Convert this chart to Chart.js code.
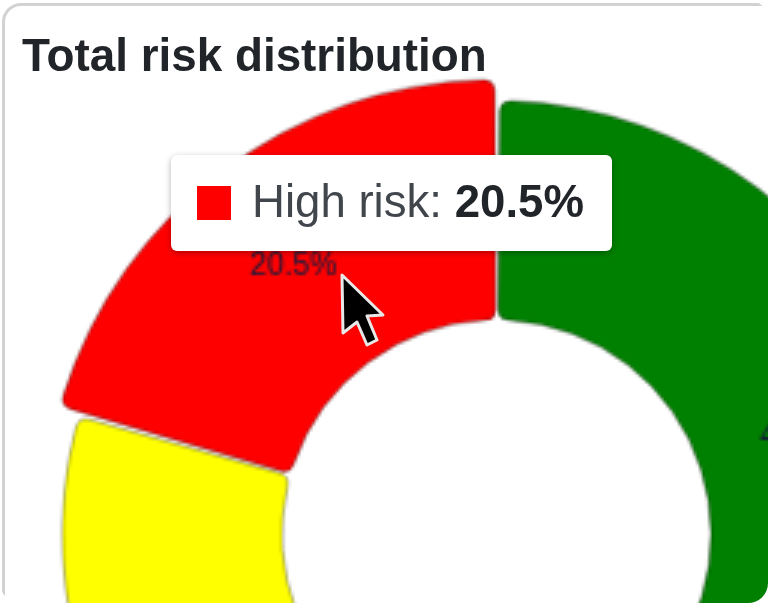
<!DOCTYPE html>
<html>
<head>
<meta charset="utf-8">
<script src="https://cdn.jsdelivr.net/npm/chart.js@4/dist/chart.umd.min.js"></script>
<style>
  html, body { margin: 0; padding: 0; background: #fff; overflow: hidden; }
  #frame {
    position: relative; width: 768px; height: 603px; overflow: hidden;
    border-radius: 20px; background: #fff;
    font-family: "Liberation Sans", Arial, sans-serif;
  }
  #card {
    position: absolute; left: 2px; top: 3px; width: 900px; height: 800px;
    border: 3px solid #d2d2d2; border-radius: 19px; box-sizing: border-box;
  }
  #title {
    position: absolute; left: 22px; top: 30px; font-size: 45.8px; line-height: 52px;
    font-weight: bold; color: #212529; white-space: nowrap; filter: blur(.7px);
  }
  #chart { position: absolute; left: -3px; top: 35px; }
  #tip {
    position: absolute; left: 171px; top: 155px; width: 441px; height: 96px;
    background: #fff; border-radius: 6px; box-shadow: 0 2px 6px rgba(0,0,0,.3);
  }
  #tip .box { position: absolute; left: 26px; top: 31px; width: 34px; height: 34px; }
  #tip .txt {
    position: absolute; left: 81px; top: 21px; font-size: 45.6px; line-height: 52px;
    color: #41464d; white-space: nowrap; filter: blur(.7px);
  }
  #tip b { color: #212529; }
  #cursor { position: absolute; left: 0; top: 0; filter: blur(.5px); }
</style>
</head>
<body>
<div id="frame">
  <div id="card"></div>
  <div id="title">Total risk distribution</div>
  <canvas id="chart" width="999" height="999"></canvas>
  <div id="tip"><div class="box"></div><div class="txt"></div></div>
  <svg id="cursor" width="768" height="603">
    <polygon points="342,275 343,333 357,322 367,345 377,340 367,316 383,315"
      fill="#000" stroke="#e8e8e8" stroke-width="3" stroke-linejoin="round"/>
  </svg>
</div>
<script>
const categories = ['Low risk', 'Medium risk', 'High risk'];
const riskValues = [40.2, 39.3, 20.5];
const riskColors = ['#008000', '#ffff00', '#ff0000'];
const hoveredIndex = 2;

// hovered slice grows outward only, inner edge stays put
const growHovered = {
  id: 'growHovered',
  afterDatasetsUpdate(chart) {
    chart.getActiveElements().forEach(a => {
      chart.getDatasetMeta(a.datasetIndex).data[a.index].outerRadius += 21;
    });
  }
};

const sliceLabels = {
  id: 'sliceLabels',
  afterDatasetsDraw(chart) {
    const ctx = chart.ctx;
    ctx.save();
    ctx.font = '30.7px "Liberation Sans", Arial, sans-serif';
    ctx.fillStyle = '#141c3c';
    ctx.textAlign = 'center';
    ctx.textBaseline = 'middle';
    chart.getDatasetMeta(0).data.forEach((arc, i) => {
      const p = arc.getCenterPoint();
      ctx.fillText(riskValues[i] + '%', p.x - 2, p.y);
    });
    ctx.restore();
  }
};

function htmlTooltip({ tooltip }) {
  const tip = document.getElementById('tip');
  if (!tooltip.dataPoints || !tooltip.dataPoints.length) return;
  const item = tooltip.dataPoints[0];
  tip.querySelector('.box').style.background = riskColors[item.dataIndex];
  tip.querySelector('.txt').innerHTML = item.label + ': <b>' + item.raw + '%</b>';
}

const chart = new Chart(document.getElementById('chart'), {
  type: 'doughnut',
  data: {
    labels: categories,
    datasets: [{
      data: riskValues,
      backgroundColor: riskColors,
      hoverBackgroundColor: riskColors,
      borderColor: 'rgba(0,0,0,0.32)',
      hoverBorderColor: 'rgba(0,0,0,0.32)',
      borderWidth: 2.5,
      hoverBorderWidth: 2.5,
      borderRadius: 11,
      spacing: 4,
      hoverOffset: 0
    }]
  },
  options: {
    responsive: false,
    devicePixelRatio: 1 / 3,
    animation: false,
    radius: 432,
    cutout: '49.2%',
    events: [],
    plugins: {
      legend: { display: false },
      title: { display: false },
      tooltip: { enabled: false, external: htmlTooltip }
    }
  },
  plugins: [growHovered, sliceLabels]
});

const active = [{ datasetIndex: 0, index: hoveredIndex }];
chart.setActiveElements(active);
chart.tooltip.setActiveElements(active, { x: 342, y: 240 });
chart.update();
</script>
</body>
</html>
